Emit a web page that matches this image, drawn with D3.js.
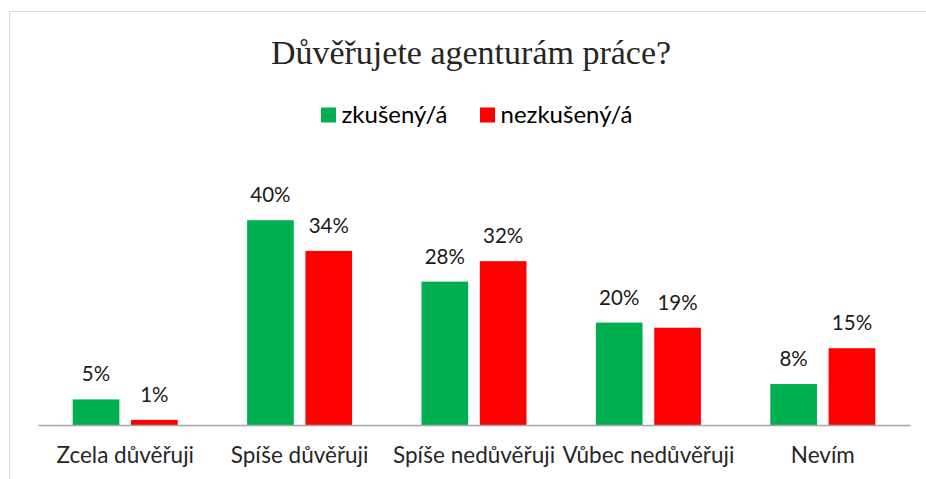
<!DOCTYPE html>
<html>
<head>
  <meta charset="utf-8">
  <title>Důvěřujete agenturám práce?</title>
  <script src="https://d3js.org/d3.v7.min.js"></script>
  <style>
    body { margin: 0; background: #fff; }
    text { font-family: Lato, "Open Sans", sans-serif; }
  </style>
</head>
<body>
  <svg width="926" height="479"></svg>
  <script>
    // chart data
    const categories = ["Zcela důvěřuji", "Spíše důvěřuji", "Spíše nedůvěřuji", "Vůbec nedůvěřuji", "Nevím"];
    const seriesNames = ["zkušený/á", "nezkušený/á"];
    const experienced = [5, 40, 28, 20, 8];
    const inexperienced = [1, 34, 32, 19, 15];
    const colors = ["#00b050", "#ff0000"];

    const svg = d3.select("svg");

    // outer frame (only top/left edges fall inside the picture)
    svg.append("rect")
      .attr("x", 9.5).attr("y", 11.5)
      .attr("width", 940).attr("height", 500)
      .attr("fill", "none")
      .attr("stroke", "#d9d9d9");

    const x0 = d3.scaleBand().domain(categories).range([38, 910]);
    const x1 = d3.scaleBand().domain(seriesNames).range([0, 105]).paddingInner(0.2);
    const y = d3.scaleLinear().domain([0, 45]).range([425, 194.6]);

    const rows = categories.map((c, i) => ({cat: c, values: [experienced[i], inexperienced[i]]}));

    const groups = svg.append("g").selectAll("g")
      .data(rows)
      .enter().append("g")
      .attr("transform", d => `translate(${x0(d.cat) + (x0.bandwidth() - 105) / 2},0)`);

    groups.selectAll("rect")
      .data(d => d.values.map((v, j) => ({name: seriesNames[j], v, j})))
      .enter().append("rect")
      .attr("x", d => x1(d.name))
      .attr("y", d => y(d.v))
      .attr("width", x1.bandwidth())
      .attr("height", d => y(0) - y(d.v))
      .attr("fill", d => colors[d.j]);

    groups.selectAll("text")
      .data(d => d.values.map((v, j) => ({name: seriesNames[j], v, j})))
      .enter().append("text")
      .attr("x", d => x1(d.name) + x1.bandwidth() / 2)
      .attr("y", d => y(d.v) - 18)
      .attr("text-anchor", "middle")
      .attr("font-size", 20.5)
      .attr("fill", "#1a1a1a")
      .text(d => d.v + "%");

    // category axis
    const axis = svg.append("g").attr("transform", "translate(0,425)")
      .call(d3.axisBottom(x0).tickSize(0).tickPadding(0));
    axis.select(".domain").attr("stroke", "#a6a6a6").attr("stroke-width", 1.5);
    axis.selectAll("text")
      .attr("y", 38)
      .attr("dy", null)
      .attr("font-size", 22.5)
      .attr("font-family", "Lato, 'Open Sans', sans-serif")
      .attr("fill", "#262626");

    // title
    svg.append("text")
      .attr("x", 471).attr("y", 64)
      .attr("text-anchor", "middle")
      .style("font-family", "'Liberation Serif', 'Times New Roman', serif")
      .attr("font-size", 34)
      .attr("fill", "#262626")
      .text("Důvěřujete agenturám práce?");

    // legend
    const legendX = [321, 480];
    const legend = svg.append("g").selectAll("g")
      .data(seriesNames)
      .enter().append("g")
      .attr("transform", (d, i) => `translate(${legendX[i]},107.5)`);
    legend.append("rect").attr("width", 15).attr("height", 15).attr("fill", (d, i) => colors[i]);
    legend.append("text")
      .attr("x", 20.5).attr("y", 15.2)
      .attr("font-size", 24)
      .attr("fill", "#000")
      .text(d => d);
  </script>
</body>
</html>
